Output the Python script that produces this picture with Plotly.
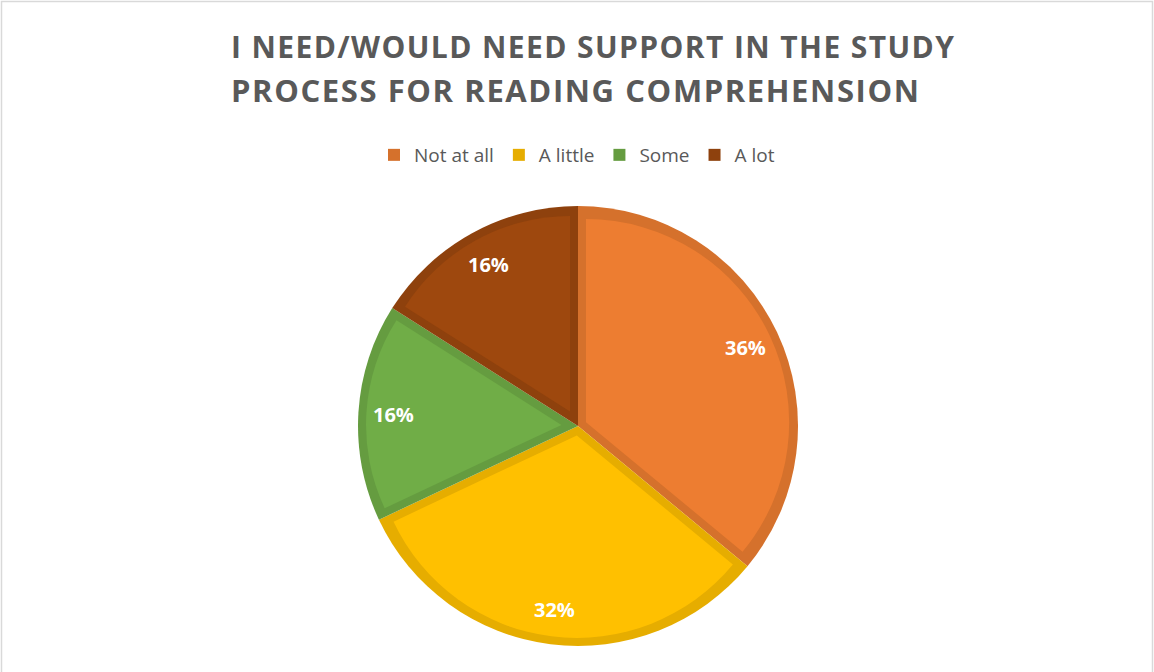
import math
import plotly.graph_objects as go

# ---- data ----
labels = ["Not at all", "A little", "Some", "A lot"]
values = [36, 32, 16, 16]
pct_text = ["36%", "32%", "16%", "16%"]
fill_colors = ["#ED7D31", "#FFC000", "#70AD47", "#9E480E"]
rim_colors = ["#D5712C", "#E6AD00", "#659C40", "#8E410D"]
title_lines = ["I NEED/WOULD NEED SUPPORT IN THE STUDY",
               "PROCESS FOR READING COMPREHENSION"]

# ---- geometry (pixels) ----
W, H = 1154, 672
CX, CY, R, RIM = 578, 426, 220, 8
LABEL_R = 0.84


def dom(cx, cy, r):
    return dict(x=[(cx - r) / W, (cx + r) / W], y=[1 - (cy + r) / H, 1 - (cy - r) / H])


fig = go.Figure()

# dark base pie (forms the inner rim of each slice)
fig.add_trace(go.Pie(
    labels=labels, values=values, sort=False, direction="clockwise", rotation=0,
    marker=dict(colors=rim_colors, line=dict(width=0)),
    textinfo="none", domain=dom(CX, CY, R), showlegend=True,
    hoverinfo="label+percent",
))

# lighter inset slices + percentage labels
total = sum(values)
start = 0.0
for k, v in enumerate(values):
    theta = 2 * math.pi * v / total
    mid = start + theta / 2
    start += theta
    s = RIM / math.sin(theta / 2) if theta < math.pi else RIM
    cx = CX + s * math.sin(mid)
    cy = CY - s * math.cos(mid)
    r = R - RIM - s
    cols = ["rgba(0,0,0,0)"] * len(values)
    cols[k] = fill_colors[k]
    fig.add_trace(go.Pie(
        labels=labels, values=values, sort=False, direction="clockwise", rotation=0,
        marker=dict(colors=cols, line=dict(width=0)),
        textinfo="none",
        domain=dom(cx, cy, r), showlegend=False, hoverinfo="skip",
    ))
    lx = CX + LABEL_R * R * math.sin(mid)
    ly = CY - LABEL_R * R * math.cos(mid)
    fig.add_annotation(
        text=pct_text[k], x=lx / W, y=1 - ly / H, xref="paper", yref="paper",
        xanchor="center", yanchor="middle", showarrow=False,
        font=dict(family="Open Sans", size=20, color="white", weight="bold"),
    )

# title lines
title_y = [47, 90]
title_font = [30, 31]
title_sp = [1.4, 1.6]
for line, ty, fs, sp in zip(title_lines, title_y, title_font, title_sp):
    fig.add_annotation(
        text='<span style="letter-spacing:%.1fpx">' % sp + line + "</span>",
        x=229 / W, xref="paper", xanchor="left",
        y=1 - ty / H, yref="paper", yanchor="middle",
        showarrow=False,
        font=dict(family="Open Sans", size=fs, color="#595959", weight="bold"),
    )

# chart frame
fig.add_shape(type="rect", xref="paper", yref="paper",
              x0=1.5 / W, x1=1 - 1.5 / W, y0=-0.05, y1=1 - 1.5 / H,
              line=dict(color="#D9D9D9", width=1.5), fillcolor="rgba(0,0,0,0)")

fig.update_layout(
    width=W, height=H,
    margin=dict(l=0, r=0, t=0, b=0),
    paper_bgcolor="white", plot_bgcolor="white",
    legend=dict(orientation="h", x=0.5, xanchor="center", y=1 - 155 / H, yanchor="middle",
                font=dict(family="Open Sans", size=19, color="#595959"),
                itemwidth=30, tracegroupgap=0),
    font=dict(family="Open Sans"),
)

fig.write_html("out.html", config={"displayModeBar": False},
               post_script="document.body.style.margin='0px';")
